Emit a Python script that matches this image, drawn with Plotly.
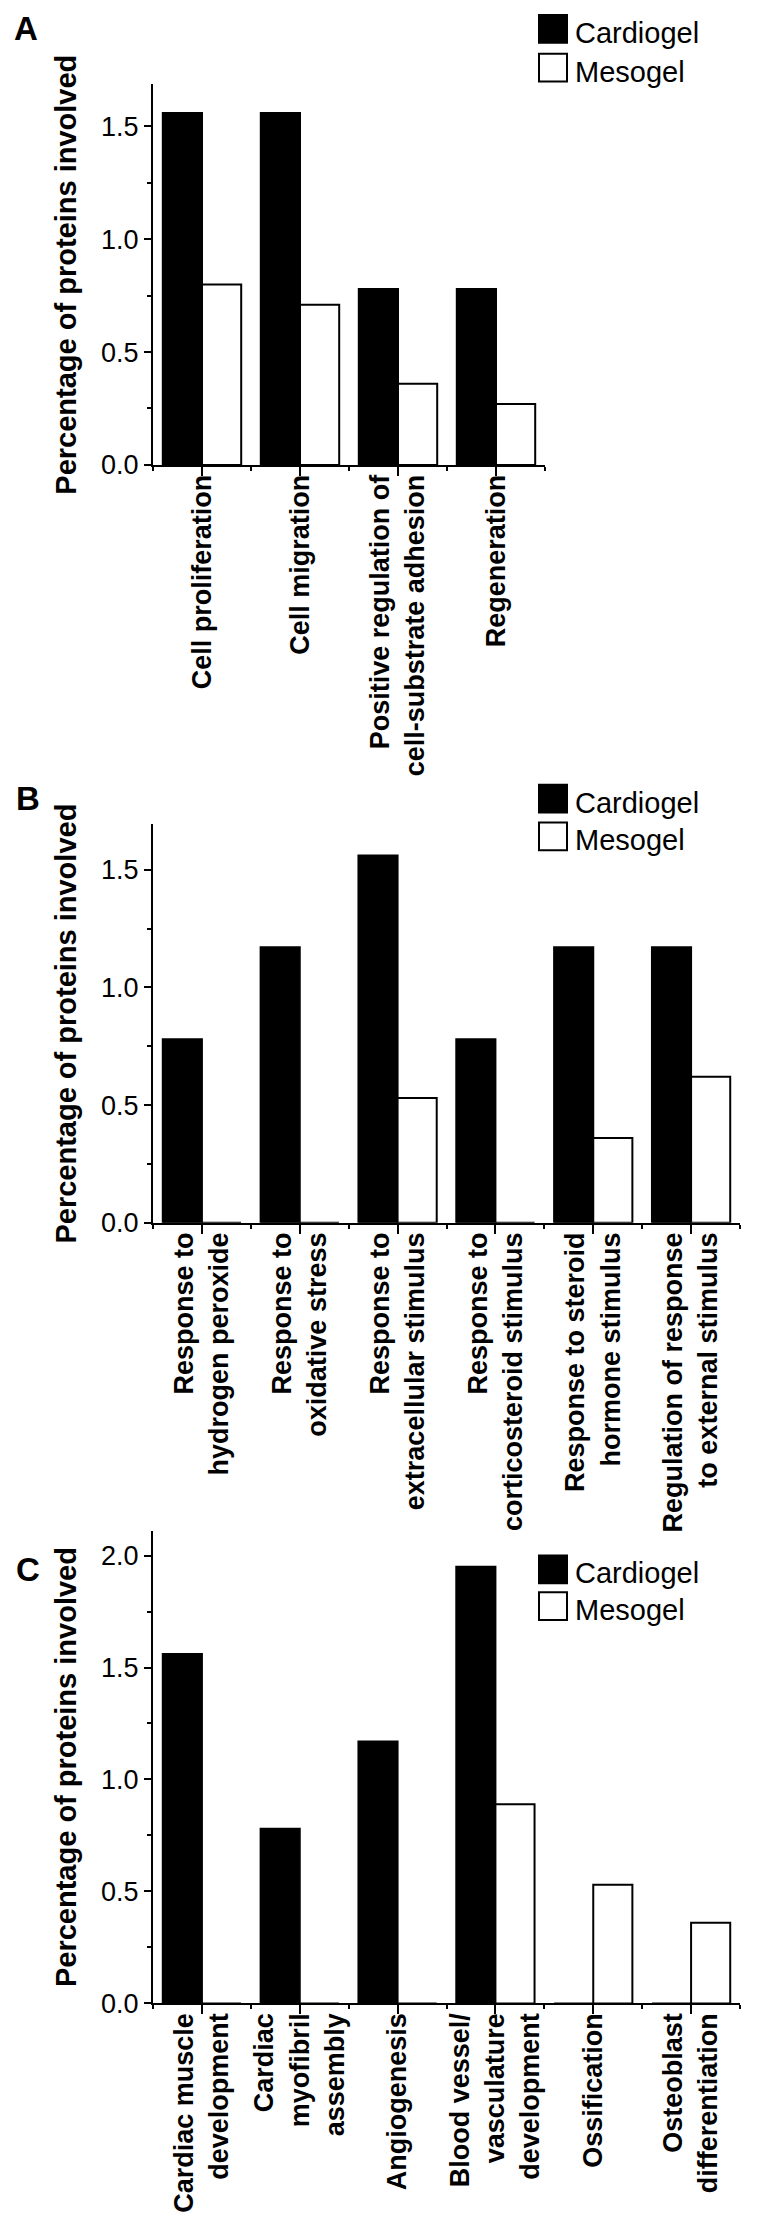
import plotly.graph_objects as go

W, H = 784, 2226
FONT = "Liberation Sans, Arial, sans-serif"

series_names = ["Cardiogel", "Mesogel"]

cats_a = ["Cell proliferation", "Cell migration",
          "Positive regulation of<br>cell-substrate adhesion", "Regeneration"]
cardio_a = [1.56, 1.56, 0.78, 0.78]
meso_a = [0.80, 0.71, 0.36, 0.27]

cats_b = ["Response to<br>hydrogen peroxide", "Response to<br>oxidative stress",
          "Response to<br>extracellular stimulus", "Response to<br>corticosteroid stimulus",
          "Response to steroid<br>hormone stimulus", "Regulation of response<br>to external stimulus"]
cardio_b = [0.78, 1.17, 1.56, 0.78, 1.17, 1.17]
meso_b = [0.0, 0.0, 0.53, 0.0, 0.36, 0.62]

cats_c = ["Cardiac muscle<br>development", "Cardiac<br>myofibril<br>assembly", "Angiogenesis",
          "Blood vessel/<br>vasculature<br>development", "Ossification", "Osteoblast<br>differentiation"]
cardio_c = [1.56, 0.78, 1.17, 1.95, 0.0, 0.0]
meso_c = [0.0, 0.0, 0.0, 0.89, 0.53, 0.36]

y_ticks_a = [0.0, 0.5, 1.0, 1.5]
y_ticks_b = [0.0, 0.5, 1.0, 1.5]
y_ticks_c = [0.0, 0.5, 1.0, 1.5, 2.0]

panel_letters = ["A", "B", "C"]
y_title = "Percentage of proteins involved"


def fx(p):
    return p / W


def fy(p):
    return 1 - p / H


panels = [
    dict(cats=cats_a, card=cardio_a, meso=meso_a, yt=y_ticks_a, xpx=(145, 537), ypx=(460, 77),
         ymax=1.686, letter=(18, 21), leg=(7, 46)),
    dict(cats=cats_b, card=cardio_b, meso=meso_b, yt=y_ticks_b, xpx=(145, 732), ypx=(1223, 822),
         ymax=1.692, letter=(20, 796), leg=(782, 820)),
    dict(cats=cats_c, card=cardio_c, meso=meso_c, yt=y_ticks_c, xpx=(145, 732), ypx=(2009, 1533),
         ymax=2.111, letter=(20, 1572), leg=(1558, 1595)),
]

fig = go.Figure()
layout = dict(
    width=W, height=H, margin=dict(l=0, r=0, t=0, b=0),
    paper_bgcolor="white", plot_bgcolor="white",
    barmode="group", bargap=0.2, bargroupgap=0.0,
    showlegend=False, font=dict(family=FONT, color="black"),
)
shapes = []
annotations = []

for i, p in enumerate(panels):
    k = "" if i == 0 else str(i + 1)
    n = len(p["cats"])
    xs = list(range(n))
    fig.add_trace(go.Bar(x=xs, y=p["card"], name=series_names[0],
                         marker=dict(color="black", line=dict(color="black", width=2)),
                         xaxis="x" + k, yaxis="y" + k))
    fig.add_trace(go.Bar(x=xs, y=p["meso"], name=series_names[1],
                         marker=dict(color="white", line=dict(color="black", width=2)),
                         xaxis="x" + k, yaxis="y" + k))
    layout["xaxis" + k] = dict(
        domain=[fx(p["xpx"][0]), fx(p["xpx"][1])], anchor="y" + k,
        range=[-0.5, n - 0.5], showline=True, linecolor="black", linewidth=2,
        showgrid=False, zeroline=False,
        tickmode="array", tickvals=xs, ticktext=p["cats"], tickangle=-90,
        ticks="outside", ticklen=9, tickwidth=2, tickcolor="black",
        ticklabelstandoff=-12,
        tickfont=dict(family=FONT, size=27, weight="bold", color="black"),
        minor=dict(tickmode="array", tickvals=[j - 0.5 for j in range(n + 1)],
                   ticks="outside", ticklen=4, tickwidth=2, tickcolor="black", showgrid=False),
    )
    layout["yaxis" + k] = dict(
        domain=[fy(p["ypx"][0]), fy(p["ypx"][1])], anchor="x" + k,
        range=[0, p["ymax"]], showline=True, linecolor="black", linewidth=2,
        showgrid=False, zeroline=False,
        tickmode="array", tickvals=p["yt"], ticktext=["%.1f" % v for v in p["yt"]],
        ticks="outside", ticklen=7, tickwidth=2, tickcolor="black",
        tickfont=dict(family=FONT, size=27, color="black"),
        minor=dict(tickmode="linear", tick0=0, dtick=0.25, ticks="outside", ticklen=4,
                   tickwidth=2, tickcolor="black", showgrid=False),
        title=dict(text=y_title, standoff=16,
                   font=dict(family=FONT, size=29, weight="bold", color="black")),
    )
    # panel letter
    annotations.append(dict(text="<b>%s</b>" % panel_letters[i], x=fx(p["letter"][0]), y=fy(p["letter"][1]),
                            xref="paper", yref="paper", xanchor="center", yanchor="middle",
                            showarrow=False, font=dict(family=FONT, size=33, color="black")))
    # legend
    for j, (name, fill) in enumerate(zip(series_names, ["black", "white"])):
        top = p["leg"][j]
        shapes.append(dict(type="rect", xref="paper", yref="paper",
                           x0=fx(531), x1=fx(559), y0=fy(top + 28), y1=fy(top),
                           fillcolor=fill, line=dict(color="black", width=2)))
        annotations.append(dict(text=name, x=fx(565), y=fy(top + 18), xref="paper", yref="paper",
                                xanchor="left", yanchor="middle", showarrow=False,
                                font=dict(family=FONT, size=29, color="black")))

layout["shapes"] = shapes
layout["annotations"] = annotations
fig.update_layout(**layout)
fig.write_html("out.html")
